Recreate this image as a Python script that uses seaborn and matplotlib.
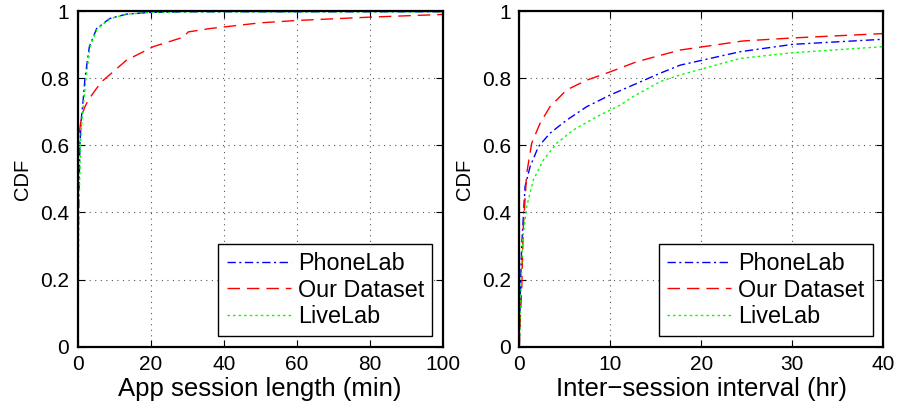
import numpy as np
import pandas as pd
import matplotlib
matplotlib.use("Agg")
import matplotlib.pyplot as plt
import seaborn as sns
from matplotlib.ticker import FuncFormatter

# ---- data ----
series = ["PhoneLab", "Our Dataset", "LiveLab"]

# left panel: app session length (min)
len_phonelab_x = [0, 0.1, 0.17, 0.4, 0.63, 1.0, 1.5, 2.0, 3.2, 5.2, 8.8, 13.4, 19.8, 30, 50, 100]
len_phonelab_y = [0, 0.15, 0.34, 0.48, 0.607, 0.68, 0.735, 0.80, 0.894, 0.948, 0.978, 0.991, 0.996, 0.998, 0.998, 0.998]
len_ours_x = [0, 0.05, 0.1, 0.3, 1.1, 2.0, 2.9, 5.2, 6.6, 9.8, 13.4, 17.1, 20.7, 28.9, 29.6, 30.3, 36.2, 50, 60, 80, 100]
len_ours_y = [0, 0.3, 0.55, 0.625, 0.69, 0.715, 0.735, 0.77, 0.79, 0.82, 0.854, 0.874, 0.894, 0.922, 0.93, 0.938, 0.948, 0.965, 0.972, 0.982, 0.99]
len_livelab_x = [0, 0.15, 0.3, 0.5, 0.8, 1.2, 1.7, 2.3, 3.4, 5.4, 9.0, 13.6, 20, 30, 50, 100]
len_livelab_y = [0, 0.15, 0.34, 0.48, 0.607, 0.68, 0.735, 0.80, 0.894, 0.948, 0.978, 0.991, 0.996, 0.998, 0.998, 0.998]

# right panel: inter-session interval (hr)
int_phonelab_x = [0, 0.1, 0.26, 0.63, 1.18, 2.1, 3.37, 5.2, 7.4, 10, 13.3, 15.5, 17.7, 24.3, 30.1, 40]
int_phonelab_y = [0, 0.15, 0.30, 0.477, 0.536, 0.596, 0.636, 0.675, 0.715, 0.75, 0.789, 0.815, 0.839, 0.879, 0.901, 0.916]
int_ours_x = [0, 0.1, 0.26, 0.44, 0.81, 1.36, 2.27, 3.37, 5.2, 7.4, 10, 12.9, 15.5, 17.7, 24.6, 30.1, 40]
int_ours_y = [0, 0.08, 0.169, 0.357, 0.516, 0.606, 0.665, 0.715, 0.765, 0.794, 0.819, 0.849, 0.868, 0.884, 0.911, 0.92, 0.933]
int_livelab_x = [0, 0.15, 0.37, 0.81, 1.54, 2.64, 4.1, 5.9, 8.5, 11.1, 12.5, 15.5, 17.7, 24.3, 30.1, 40]
int_livelab_y = [0, 0.15, 0.318, 0.417, 0.497, 0.556, 0.606, 0.645, 0.685, 0.72, 0.745, 0.79, 0.81, 0.859, 0.876, 0.894]

x_ticks_left = [0, 20, 40, 60, 80, 100]
x_ticks_right = [0, 10, 20, 30, 40]
y_ticks = [0, 0.2, 0.4, 0.6, 0.8, 1.0]

# ---- style ----
sns.set_style("ticks")
plt.rcParams["font.family"] = ["Liberation Sans", "DejaVu Sans"]
plt.rcParams["xtick.direction"] = "in"
plt.rcParams["ytick.direction"] = "in"
plt.rcParams["xtick.top"] = True
plt.rcParams["ytick.right"] = True
plt.rcParams["text.color"] = "black"
plt.rcParams["axes.labelcolor"] = "black"
plt.rcParams["xtick.color"] = "black"
plt.rcParams["ytick.color"] = "black"

colors = {"PhoneLab": "#0000ff", "Our Dataset": "#ff0000", "LiveLab": "#00ff00"}
styles = {"PhoneLab": (0, (6, 2.5, 1.5, 2.5)), "Our Dataset": (0, (9, 5)), "LiveLab": (0, (1.8, 2.2))}

fig = plt.figure(figsize=(8.98, 4.11), dpi=100)
axL = fig.add_axes([0.0865, 0.1565, 0.4065, 0.8165])
axR = fig.add_axes([0.5783, 0.1565, 0.4050, 0.8165])

panels = [
    (axL, {"PhoneLab": (len_phonelab_x, len_phonelab_y),
           "Our Dataset": (len_ours_x, len_ours_y),
           "LiveLab": (len_livelab_x, len_livelab_y)},
     x_ticks_left, "App session length (min)"),
    (axR, {"PhoneLab": (int_phonelab_x, int_phonelab_y),
           "Our Dataset": (int_ours_x, int_ours_y),
           "LiveLab": (int_livelab_x, int_livelab_y)},
     x_ticks_right, "Inter\u2212session interval (hr)"),
]

for ax, data, xt, xlabel in panels:
    for name in series:
        xs, ys = data[name]
        df = pd.DataFrame({"x": xs, "y": ys})
        sns.lineplot(data=df, x="x", y="y", ax=ax, estimator=None, sort=False,
                     color=colors[name], linewidth=1.0, label=name)
        ax.lines[-1].set_linestyle(styles[name])
    ax.set_xlim(xt[0], xt[-1])
    ax.set_ylim(0, 1)
    ax.set_xticks(xt)
    ax.set_yticks(y_ticks)
    ax.yaxis.set_major_formatter(FuncFormatter(lambda v, p: "0" if v == 0 else ("1" if v == 1 else f"{v:g}")))
    ax.tick_params(labelsize=15, length=5, width=0.8, color="black", labelcolor="black", pad=6)
    ax.grid(True, linestyle=(0, (1, 4)), color="#555555", linewidth=0.8)
    for sp in ax.spines.values():
        sp.set_linewidth(1.6)
        sp.set_color("black")
    ax.set_xlabel(xlabel, fontsize=18.5, labelpad=2, color="black")
    ax.set_ylabel("CDF", fontsize=14.5, labelpad=6, color="black")
    leg = ax.legend(loc="lower right", fontsize=16.8, frameon=True, fancybox=False,
                    edgecolor="black", framealpha=1, handlelength=2.75, handletextpad=0.3,
                    labelspacing=0.15, borderpad=0.35, borderaxespad=0.45)
    leg.get_frame().set_linewidth(1.0)
    for t in leg.get_texts():
        t.set_color("black")
    for h, name in zip(leg.get_lines(), series):
        h.set_linestyle(styles[name])

fig.savefig("out.png", dpi=100)
